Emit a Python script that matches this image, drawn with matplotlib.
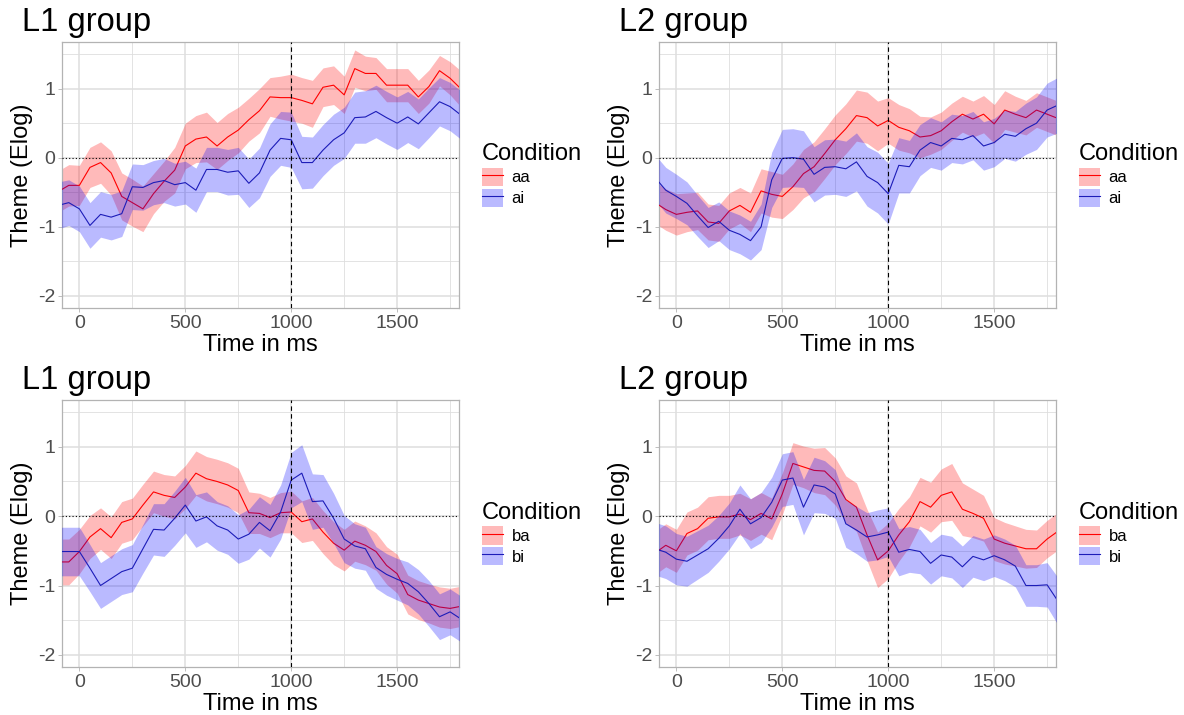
import numpy as np
import matplotlib
matplotlib.use("Agg")
import matplotlib.pyplot as plt
from matplotlib.patches import Patch
from matplotlib.lines import Line2D

plt.rcParams["font.family"] = ["Liberation Sans", "DejaVu Sans"]
plt.rcParams["axes.unicode_minus"] = False

# time grid (ms), one sample every 50 ms
time_ms = np.arange(-100, 1801, 50)

# L1 group, aa / ai
l1_aa = [-0.49, -0.40, -0.40, -0.14, -0.07, -0.22, -0.56, -0.65, -0.74, -0.52, -0.34, -0.18,
         0.17, 0.27, 0.30, 0.17, 0.30, 0.40, 0.55, 0.68, 0.88, 0.87, 0.87, 0.83, 0.78, 1.02,
         1.05, 0.91, 1.29, 1.22, 1.22, 1.05, 1.05, 1.05, 0.88, 1.03, 1.26, 1.15, 1.00]
l1_aa_se = [0.30, 0.30, 0.29, 0.29, 0.30, 0.32, 0.34, 0.34, 0.33, 0.29, 0.29, 0.33,
            0.33, 0.34, 0.36, 0.34, 0.34, 0.33, 0.31, 0.32, 0.28, 0.31, 0.34, 0.33, 0.34, 0.28,
            0.28, 0.27, 0.27, 0.25, 0.23, 0.24, 0.24, 0.24, 0.24, 0.24, 0.22, 0.24, 0.26]
l1_ai = [-0.69, -0.65, -0.74, -0.98, -0.82, -0.86, -0.81, -0.42, -0.43, -0.36, -0.33, -0.39,
         -0.36, -0.47, -0.17, -0.17, -0.21, -0.19, -0.37, -0.22, 0.11, 0.28, 0.26, -0.07, -0.07,
         0.11, 0.26, 0.36, 0.58, 0.59, 0.67, 0.58, 0.50, 0.59, 0.49, 0.65, 0.81, 0.74, 0.62]
l1_ai_se = [0.34, 0.33, 0.33, 0.33, 0.33, 0.33, 0.33, 0.33, 0.33, 0.32, 0.32, 0.31,
            0.31, 0.32, 0.32, 0.32, 0.33, 0.34, 0.35, 0.36, 0.38, 0.39, 0.40, 0.38, 0.37,
            0.37, 0.37, 0.37, 0.37, 0.38, 0.38, 0.38, 0.38, 0.37, 0.36, 0.36, 0.35, 0.35, 0.35]

# L2 group, aa / ai
l2_aa = [-0.65, -0.75, -0.82, -0.79, -0.77, -0.93, -0.95, -0.77, -0.69, -0.79, -0.48, -0.53,
         -0.56, -0.42, -0.23, -0.13, 0.06, 0.26, 0.42, 0.61, 0.58, 0.46, 0.54, 0.44, 0.39,
         0.30, 0.32, 0.39, 0.52, 0.63, 0.56, 0.63, 0.49, 0.69, 0.63, 0.58, 0.69, 0.63, 0.57]
l2_aa_se = [0.30, 0.30, 0.30, 0.28, 0.27, 0.26, 0.26, 0.26, 0.26, 0.28, 0.32, 0.33,
            0.32, 0.33, 0.35, 0.36, 0.36, 0.36, 0.36, 0.37, 0.37, 0.36, 0.33, 0.33, 0.32,
            0.30, 0.27, 0.27, 0.27, 0.26, 0.26, 0.27, 0.28, 0.28, 0.26, 0.25, 0.25, 0.25, 0.25]
l2_ai = [-0.29, -0.47, -0.56, -0.66, -0.84, -1.01, -0.92, -1.05, -1.11, -1.20, -1.00, -0.32,
         -0.01, 0.00, -0.02, -0.24, -0.14, -0.13, -0.16, -0.06, -0.27, -0.36, -0.52, -0.11,
         -0.13, 0.11, 0.22, 0.17, 0.28, 0.26, 0.32, 0.17, 0.22, 0.34, 0.31, 0.42, 0.50, 0.69, 0.76]
l2_ai_se = [0.33, 0.33, 0.32, 0.31, 0.30, 0.29, 0.28, 0.28, 0.28, 0.28, 0.33, 0.40,
            0.42, 0.42, 0.41, 0.40, 0.40, 0.40, 0.40, 0.42, 0.43, 0.44, 0.44, 0.40, 0.38,
            0.37, 0.36, 0.35, 0.35, 0.35, 0.35, 0.35, 0.35, 0.35, 0.36, 0.37, 0.38, 0.39, 0.40]

# L1 group, ba / bi
l1_ba = [-0.66, -0.66, -0.51, -0.30, -0.18, -0.31, -0.09, -0.04, 0.16, 0.35, 0.30, 0.27,
         0.42, 0.62, 0.54, 0.50, 0.45, 0.37, 0.05, 0.04, -0.02, 0.05, 0.06, -0.08, -0.04,
         -0.23, -0.39, -0.49, -0.36, -0.42, -0.51, -0.71, -0.83, -1.13, -1.21, -1.26, -1.31,
         -1.33, -1.30]
l1_ba_se = [0.33, 0.33, 0.32, 0.31, 0.30, 0.30, 0.30, 0.30, 0.30, 0.30, 0.30, 0.31,
            0.31, 0.32, 0.32, 0.32, 0.32, 0.32, 0.30, 0.29, 0.29, 0.29, 0.30, 0.30, 0.31,
            0.31, 0.31, 0.30, 0.29, 0.28, 0.27, 0.27, 0.28, 0.28, 0.28, 0.28, 0.29, 0.29, 0.29]
l1_bi = [-0.51, -0.51, -0.51, -0.75, -1.00, -0.90, -0.80, -0.75, -0.47, -0.19, -0.20, -0.03,
         0.16, -0.07, -0.01, -0.14, -0.20, -0.33, -0.26, -0.09, -0.21, 0.06, 0.52, 0.62, 0.21,
         0.22, -0.03, -0.33, -0.43, -0.47, -0.74, -0.84, -0.91, -0.97, -1.09, -1.26, -1.45,
         -1.38, -1.48]
l1_bi_se = [0.35, 0.35, 0.35, 0.34, 0.33, 0.33, 0.33, 0.34, 0.35, 0.37, 0.38, 0.39,
            0.40, 0.38, 0.36, 0.35, 0.35, 0.35, 0.36, 0.37, 0.38, 0.39, 0.40, 0.41, 0.40,
            0.38, 0.36, 0.34, 0.32, 0.31, 0.30, 0.30, 0.30, 0.31, 0.32, 0.33, 0.33, 0.33, 0.33]

# L2 group, ba / bi
l2_ba = [-0.53, -0.42, -0.50, -0.25, -0.18, -0.03, -0.01, -0.01, 0.03, -0.05, 0.04, -0.04,
         0.32, 0.76, 0.71, 0.66, 0.65, 0.50, 0.24, 0.13, -0.27, -0.63, -0.50, -0.27, -0.08,
         0.21, 0.13, 0.30, 0.35, 0.10, 0.04, -0.03, -0.33, -0.39, -0.43, -0.47, -0.47, -0.33,
         -0.22]
l2_ba_se = [0.31, 0.31, 0.31, 0.31, 0.31, 0.31, 0.31, 0.31, 0.30, 0.30, 0.30, 0.30,
            0.30, 0.30, 0.30, 0.32, 0.34, 0.34, 0.34, 0.35, 0.37, 0.40, 0.40, 0.38, 0.36,
            0.35, 0.36, 0.38, 0.41, 0.38, 0.35, 0.33, 0.31, 0.30, 0.29, 0.28, 0.27, 0.27, 0.27]
l2_bi = [-0.47, -0.52, -0.62, -0.65, -0.56, -0.47, -0.32, -0.14, 0.10, -0.11, -0.02, 0.20,
         0.52, 0.55, 0.13, 0.45, 0.42, 0.32, -0.11, -0.20, -0.30, -0.27, -0.23, -0.52, -0.48,
         -0.51, -0.68, -0.56, -0.59, -0.73, -0.58, -0.63, -0.57, -0.63, -0.72, -1.00, -1.00,
         -0.99, -1.22]
l2_bi_se = [0.38, 0.38, 0.37, 0.36, 0.35, 0.34, 0.33, 0.33, 0.35, 0.36, 0.36, 0.36,
            0.38, 0.38, 0.40, 0.40, 0.38, 0.35, 0.34, 0.34, 0.35, 0.36, 0.35, 0.34, 0.33,
            0.32, 0.30, 0.30, 0.30, 0.30, 0.30, 0.30, 0.30, 0.30, 0.30, 0.30, 0.30, 0.32, 0.34]

panel_titles = ["L1 group", "L2 group", "L1 group", "L2 group"]
condition_labels = [("aa", "ai"), ("aa", "ai"), ("ba", "bi"), ("ba", "bi")]
panel_data = [
    (l1_aa, l1_aa_se, l1_ai, l1_ai_se),
    (l2_aa, l2_aa_se, l2_ai, l2_ai_se),
    (l1_ba, l1_ba_se, l1_bi, l1_bi_se),
    (l2_ba, l2_ba_se, l2_bi, l2_bi_se),
]

x_ticks = [0, 500, 1000, 1500]
x_minor = [250, 750, 1250, 1750]
y_ticks = [-2, -1, 0, 1]
y_minor = [-1.5, -0.5, 0.5, 1.5]

RED = "#FF0000"
BLUE = "#0000FF"
BLUE_LINE = "#1C1CB8"
GRID = "#DEDEDE"
BORDER = "#B3B3B3"

W, H = 1184, 715
fig = plt.figure(figsize=(W / 100, H / 100), dpi=100)

# panel boxes in pixels: left, top, right, bottom
boxes = [(62, 42, 459, 308), (659, 42, 1056, 308),
         (62, 400, 459, 667), (659, 400, 1056, 667)]

for i, (l, t, r, b) in enumerate(boxes):
    ax = fig.add_axes([l / W, 1 - b / H, (r - l) / W, (b - t) / H])
    m1, s1, m2, s2 = [np.asarray(a) for a in panel_data[i]]
    lab1, lab2 = condition_labels[i]

    ax.fill_between(time_ms, m1 - s1, m1 + s1, color=RED, alpha=0.27, lw=0, zorder=2)
    ax.plot(time_ms, m1, color=RED, lw=0.8, zorder=3)
    ax.fill_between(time_ms, m2 - s2, m2 + s2, color=BLUE, alpha=0.27, lw=0, zorder=4)
    ax.plot(time_ms, m2, color=BLUE_LINE, lw=0.8, zorder=5)

    ax.axhline(0, color="black", lw=0.8, ls=(0, (1, 2)), zorder=6)
    ax.axvline(1000, color="black", lw=0.8, ls=(0, (4, 3)), zorder=6)

    ax.set_xlim(-82, 1792)
    ax.set_ylim(-2.175, 1.675)
    ax.set_xticks(x_ticks)
    ax.set_xticks(x_minor, minor=True)
    ax.set_yticks(y_ticks)
    ax.set_yticks(y_minor, minor=True)
    ax.grid(which="major", color=GRID, lw=1.1, zorder=0)
    ax.grid(which="minor", color=GRID, lw=0.6, zorder=0)
    ax.set_axisbelow(True)
    ax.tick_params(which="major", labelsize=14, labelcolor="#4D4D4D",
                   color=BORDER, length=3, width=0.6, pad=2)
    ax.tick_params(which="minor", length=0)
    for sp in ax.spines.values():
        sp.set_color(BORDER)
        sp.set_linewidth(0.9)

    fig.text((l - 40) / W, 1 - (t - 20) / H, panel_titles[i], fontsize=23.5,
             ha="left", va="center")
    fig.text((l - 40) / W, 1 - (t + b) / 2 / H, "Theme (Elog)", fontsize=17,
             rotation=90, ha="center", va="center")
    fig.text((l + r) / 2 / W, 1 - (b + 37) / H, "Time in ms", fontsize=17,
             ha="center", va="center")

    handles = [
        (Patch(facecolor=RED, alpha=0.27, lw=0), Line2D([], [], color=RED, lw=0.8)),
        (Patch(facecolor=BLUE, alpha=0.27, lw=0), Line2D([], [], color=BLUE_LINE, lw=0.8)),
    ]
    leg = ax.legend(handles, [lab1, lab2], title="Condition", loc="center left",
                    bbox_to_anchor=(1.04, 0.5), frameon=False, fontsize=12,
                    title_fontsize=17, handlelength=1.3, handleheight=1.3,
                    handletextpad=0.5, labelspacing=0.15, borderaxespad=0,
                    alignment="left")

fig.savefig("out.png", dpi=100, facecolor="white")
